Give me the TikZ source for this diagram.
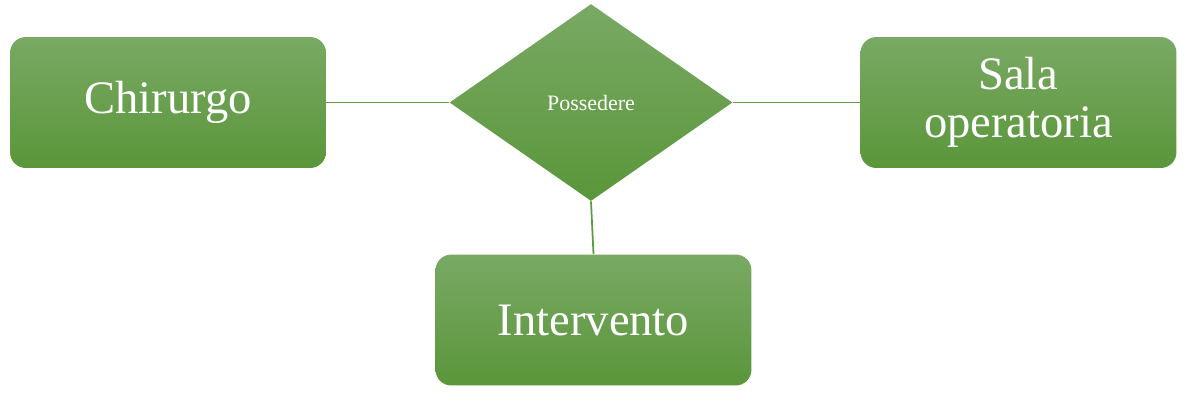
\documentclass[tikz,border=0pt]{standalone}
\usepackage{fontspec}
\setmainfont{Liberation Serif}
\usepackage{tikz}
\usetikzlibrary{shapes.geometric}
\definecolor{verdesu}{HTML}{79A964}
\definecolor{verdegiu}{HTML}{5A963A}
\definecolor{linea}{HTML}{5E9A40}
\tikzset{
  entita/.style={rectangle, rounded corners=9pt, top color=verdesu, bottom color=verdegiu,
    minimum width=6.32cm, minimum height=2.62cm, text=white, align=center,
    font=\fontsize{26.5}{27}\selectfont, inner sep=0pt},
  relazione/.style={diamond, top color=verdesu, bottom color=verdegiu,
    minimum width=5.66cm, minimum height=3.94cm, text=white,
    font=\fontsize{12.5}{14}\selectfont, inner sep=0pt},
  legame/.style={draw=linea, line width=1pt}
}
\begin{document}
\begin{tikzpicture}[x=0.02cm, y=-0.02cm]
            \useasboundingbox (0,0) rectangle (1198,410);
            \node[entita] (chirurgo) at (168,102.5) {Chirurgo};
            \node[relazione] (possedere) at (591,102.5) {Possedere};
            \node[entita] (sala) at (1018.5,102.5) {Sala\\operatoria};
            \node[entita] (intervento) at (593.5,320) {Intervento};
            \draw[legame] (chirurgo.east) -- (possedere.west);
            \draw[legame] (possedere.east) -- (sala.west);
            \draw[legame] (possedere.south) -- (intervento.north);
        \end{tikzpicture}
\end{document}
